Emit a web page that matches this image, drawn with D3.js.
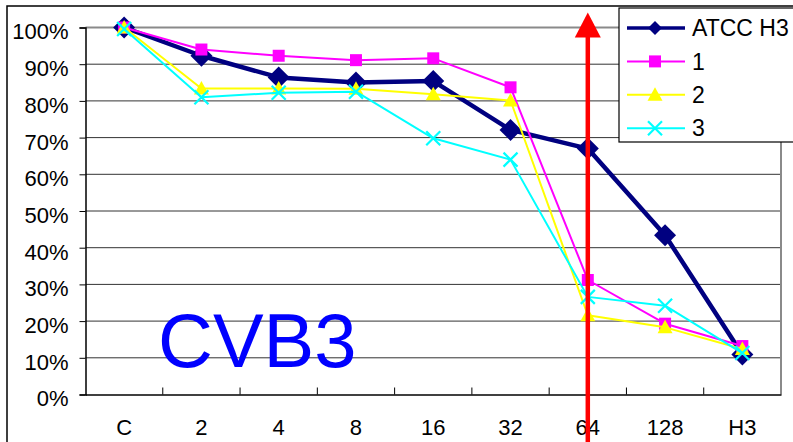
<!DOCTYPE html>
<html>
<head>
<meta charset="utf-8">
<script src="https://cdn.jsdelivr.net/npm/d3@7"></script>
<style>
  body { margin: 0; background: #fff; }
  svg { display: block; font-family: "Liberation Sans", Arial, sans-serif; }
</style>
</head>
<body>
<script>
  //=DATA=//
  const categories = ["C", "2", "4", "8", "16", "32", "64", "128", "H3"];
  const seriesNames = ["ATCC H3", "1", "2", "3"];
  const atccH3 = [100, 92.3, 86.4, 85.0, 85.4, 72.1, 67.0, 43.4, 10.9];
  const sample1 = [100, 94.0, 92.3, 91.1, 91.6, 83.7, 31.2, 19.3, 13.2];
  const sample2 = [100, 83.4, 83.4, 83.3, 81.8, 80.1, 21.6, 18.3, 12.4];
  const sample3 = [99.6, 81.0, 82.2, 82.5, 69.8, 64.0, 26.6, 24.2, 11.3];
  const yTicks = [0, 10, 20, 30, 40, 50, 60, 70, 80, 90, 100];
  const markedCategory = "64";
  const chartLabel = "CVB3";

  //=SVG AREA=//
  const width = 793;
  const height = 442;
  const plot = { left: 85.5, right: 781, top: 27.5, bottom: 394.5 };

  const svg = d3.select("body")
  .append("svg")
  .attr("width", width)
  .attr("height", height);

  // outer chart frame
  svg.append("rect")
  .attr("x", 7).attr("y", 6)
  .attr("width", width + 20).attr("height", height + 20)
  .attr("fill", "none")
  .attr("stroke", "#000")
  .attr("stroke-width", 1.5);

  //==SCALES==
  const x = d3.scaleBand()
  .domain(categories)
  .range([plot.left, plot.right])
  .padding(0);

  const y = d3.scaleLinear()
  .domain([0, 100])
  .range([plot.bottom, plot.top]);

  const cx = d => x(d) + x.bandwidth() / 2;

  //gridlines
  svg.append("g")
  .selectAll("line")
  .data(yTicks.filter(d => d > 0))
  .enter()
  .append("line")
  .attr("x1", plot.left).attr("x2", plot.right)
  .attr("y1", d => y(d)).attr("y2", d => y(d))
  .attr("stroke", d => d === 100 ? "#8a8a8a" : "#333")
  .attr("stroke-width", d => d === 100 ? 2 : 1);

  //right plot border
  svg.append("line")
  .attr("x1", plot.right).attr("x2", plot.right)
  .attr("y1", plot.top).attr("y2", plot.bottom)
  .attr("stroke", "#8a8a8a").attr("stroke-width", 2);

  //==Y AXIS==
  const yAxis = d3.axisLeft(y)
  .tickValues(yTicks)
  .tickSize(6)
  .tickPadding(11)
  .tickFormat(d => d + "%");

  const gy = svg.append("g")
  .attr("transform", `translate(${plot.left},0)`)
  .call(yAxis);
  gy.select(".domain").attr("stroke", "#000").attr("stroke-width", 1.5);
  gy.selectAll("text").attr("font-size", 22).attr("fill", "#000").attr("dy", "0.52em");

  //==X AXIS==
  const xAxis = d3.axisBottom(x)
  .tickSize(0)
  .tickPadding(25);

  const gx = svg.append("g")
  .attr("transform", `translate(0,${plot.bottom})`)
  .call(xAxis);
  gx.select(".domain").attr("stroke", "#000").attr("stroke-width", 1.5);
  gx.selectAll("text").attr("font-size", 22).attr("fill", "#000");

  //inner ticks on category boundaries
  svg.append("g")
  .selectAll("line")
  .data(categories.slice(1))
  .enter()
  .append("line")
  .attr("x1", d => x(d)).attr("x2", d => x(d))
  .attr("y1", plot.bottom).attr("y2", plot.bottom - 7)
  .attr("stroke", "#000");

  //label
  svg.append("text")
  .attr("x", 158)
  .attr("y", 367)
  .attr("font-size", 76)
  .attr("fill", "#0000ff")
  .text(chartLabel);

  //==MARKERS==
  const markers = {
    diamond: r => `M0,${-r}L${r},0L0,${r}L${-r},0Z`,
    square: r => `M${-r},${-r}H${r}V${r}H${-r}Z`,
    triangle: r => `M0,${-r}L${r},${r * 0.8}L${-r},${r * 0.8}Z`,
    cross: r => `M${-r},${-r}L${r},${r}M${r},${-r}L${-r},${r}`
  };

  const series = [
    { name: seriesNames[0], values: atccH3, color: "#000080", lw: 4.5, marker: "diamond", r: 11, lr: 7 },
    { name: seriesNames[1], values: sample1, color: "#ff00ff", lw: 2, marker: "square", r: 6, lr: 6 },
    { name: seriesNames[2], values: sample2, color: "#ffff00", lw: 2, marker: "triangle", r: 7.5, lr: 7.5 },
    { name: seriesNames[3], values: sample3, color: "#00ffff", lw: 2, marker: "cross", r: 7, lr: 7 }
  ];

  const line = d3.line()
  .x((d, i) => cx(categories[i]))
  .y(d => y(d));

  function drawMarker(g, s, r) {
    const p = g.append("path").attr("d", markers[s.marker](r));
    if (s.marker === "cross") {
      p.attr("fill", "none").attr("stroke", s.color).attr("stroke-width", 2.2);
    } else {
      p.attr("fill", s.color);
    }
  }

  series.forEach(function(s) {
    const g = svg.append("g");
    g.append("path")
    .datum(s.values)
    .attr("fill", "none")
    .attr("stroke", s.color)
    .attr("stroke-width", s.lw)
    .attr("stroke-linejoin", "round")
    .attr("d", line);

    g.selectAll("g.pt")
    .data(s.values)
    .enter()
    .append("g")
    .attr("class", "pt")
    .attr("transform", (d, i) => `translate(${cx(categories[i])},${y(d)})`)
    .each(function() { drawMarker(d3.select(this), s, s.r); });
  });

  //==RED ARROW==
  const ax = cx(markedCategory);
  svg.append("line")
  .attr("x1", ax).attr("x2", ax)
  .attr("y1", plot.top + 8).attr("y2", height + 5)
  .attr("stroke", "#ff0000")
  .attr("stroke-width", 4.5);
  svg.append("path")
  .attr("d", `M${ax},${plot.top - 15}L${ax + 13},${plot.top + 10}L${ax - 13},${plot.top + 10}Z`)
  .attr("fill", "#ff0000");

  //==LEGEND==
  const legend = svg.append("g").attr("transform", "translate(619,8)");
  legend.append("rect")
  .attr("x", 0).attr("y", 0)
  .attr("width", 200).attr("height", 134)
  .attr("fill", "#fff")
  .attr("stroke", "#000")
  .attr("stroke-width", 1.2);

  const rows = legend.selectAll("g.row")
  .data(series)
  .enter()
  .append("g")
  .attr("class", "row")
  .attr("transform", (d, i) => `translate(0,${20 + i * 33.4})`);

  rows.append("line")
  .attr("x1", 8).attr("x2", 66)
  .attr("stroke", d => d.color)
  .attr("stroke-width", d => d.lw === 2 ? 2 : 3.5);

  rows.append("g")
  .attr("transform", "translate(36,0)")
  .each(function(d) { drawMarker(d3.select(this), d, d.lr); });

  rows.append("text")
  .attr("x", 73)
  .attr("dy", "0.36em")
  .attr("font-size", 23)
  .attr("fill", "#000")
  .text(d => d.name);
</script>
</body>
</html>
